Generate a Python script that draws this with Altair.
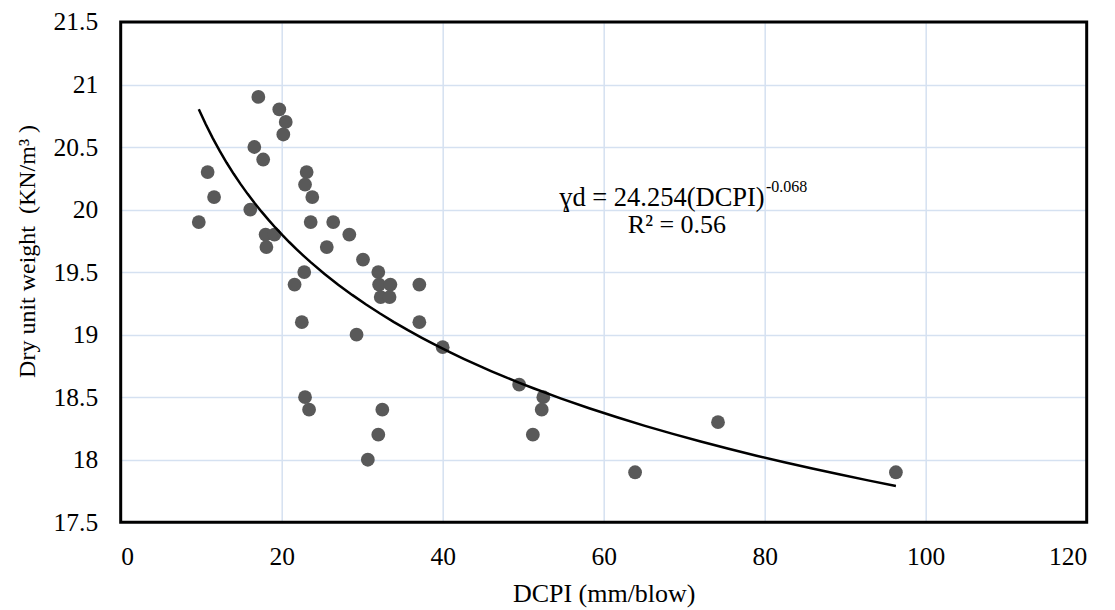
import altair as alt
import pandas as pd

dcpi = [17.1, 19.7, 20.5, 20.2, 16.6, 17.7, 10.8, 11.6, 9.7, 16.1,
        23.1, 22.9, 23.8, 23.6, 26.4, 18.0, 19.1, 18.1, 25.6, 28.4,
        30.1, 22.8, 32.0, 21.6, 32.1, 33.5, 32.3, 33.4, 37.1, 22.5,
        37.1, 29.3, 40.0, 22.9, 23.4, 32.5, 32.0, 30.7, 49.5, 52.5,
        52.3, 51.2, 74.2, 63.9, 96.3]
gamma_d = [20.9, 20.8, 20.7, 20.6, 20.5, 20.4, 20.3, 20.1, 19.9, 20.0,
           20.3, 20.2, 20.1, 19.9, 19.9, 19.8, 19.8, 19.7, 19.7, 19.8,
           19.6, 19.5, 19.5, 19.4, 19.4, 19.4, 19.3, 19.3, 19.4, 19.1,
           19.1, 19.0, 18.9, 18.5, 18.4, 18.4, 18.2, 18.0, 18.6, 18.5,
           18.4, 18.2, 18.3, 17.9, 17.9]

x_ticks = [0, 20, 40, 60, 80, 100, 120]
y_ticks = [17.5, 18, 18.5, 19, 19.5, 20, 20.5, 21, 21.5]

eq_main = "ɣd = 24.254(DCPI)"
eq_exp = "-0.068"
eq_r2 = "R² = 0.56"
y_title = "Dry unit weight\u00a0\u00a0(KN/m³\u00a0)"
x_title = "DCPI (mm/blow)"

FONT = "Liberation Serif"
W, H = 966, 500.4

df = pd.DataFrame({"x": dcpi, "y": gamma_d})

xs = alt.Scale(domain=[0, 120], nice=False, zero=False)
ys = alt.Scale(domain=[17.5, 21.5], nice=False, zero=False)

x_axis = alt.Axis(values=x_ticks, grid=True, gridColor="#d5e1f1", gridWidth=1.5,
                  ticks=False, tickSize=0, domain=False, labelFont=FONT,
                  labelFontSize=25.5, labelColor="black", labelBaseline="alphabetic",
                  labelPadding=42, title=x_title, titleFont=FONT,
                  titleFontSize=26, titleFontWeight="normal", titleColor="black",
                  titleBaseline="alphabetic", titleY=79, titleX=483, titleAlign="center")
y_axis = alt.Axis(values=y_ticks, grid=True, gridColor="#d5e1f1", gridWidth=1.5,
                  ticks=False, tickSize=0, domain=False, labelFont=FONT,
                  labelFontSize=25.5, labelColor="black", labelPadding=23, format="~g",
                  title=y_title, titleFont=FONT, titleFontSize=24,
                  titleFontWeight="normal", titleColor="black", titleAngle=270,
                  titleBaseline="alphabetic", titleAlign="center", titleX=-86, titleY=229)

base = alt.Chart(df)

pts = base.mark_circle(size=190, color="#595959", opacity=1).encode(
    x=alt.X("x:Q", scale=xs, axis=x_axis),
    y=alt.Y("y:Q", scale=ys, axis=y_axis),
)

trend = base.transform_regression("x", "y", method="pow").mark_line(
    color="black", strokeWidth=2.5
).encode(x=alt.X("x:Q", scale=xs), y=alt.Y("y:Q", scale=ys))

ann = pd.DataFrame({
    "x": [80.0, 80.15, 69.1],
    "y": [20.03, 20.14, 19.81],
    "t": [eq_main, eq_exp, eq_r2],
})
t_main = alt.Chart(ann.iloc[[0]]).mark_text(font=FONT, fontSize=26.5, align="right",
                                             baseline="alphabetic", color="black").encode(
    x=alt.X("x:Q", scale=xs), y=alt.Y("y:Q", scale=ys), text="t:N")
t_exp = alt.Chart(ann.iloc[[1]]).mark_text(font=FONT, fontSize=16, align="left",
                                            baseline="alphabetic", color="black").encode(
    x=alt.X("x:Q", scale=xs), y=alt.Y("y:Q", scale=ys), text="t:N")
t_r2 = alt.Chart(ann.iloc[[2]]).mark_text(font=FONT, fontSize=26, align="center",
                                           baseline="alphabetic", color="black").encode(
    x=alt.X("x:Q", scale=xs), y=alt.Y("y:Q", scale=ys), text="t:N")

frame = alt.Chart(pd.DataFrame({"f": [0]})).mark_rect(
    filled=False, stroke="black", strokeWidth=3
).encode(x=alt.value(0), x2=alt.value(W), y=alt.value(0), y2=alt.value(H))

chart = alt.layer(pts, trend, t_main, t_exp, t_r2, frame).properties(
    width=W, height=H,
    background="white",
    autosize=alt.AutoSizeParams(type="none"),
    padding={"left": 112.7, "top": 13.9, "right": 20, "bottom": 86},
).configure_view(stroke=None)

chart.save("out.html", embed_options={"renderer": "svg", "actions": False})
